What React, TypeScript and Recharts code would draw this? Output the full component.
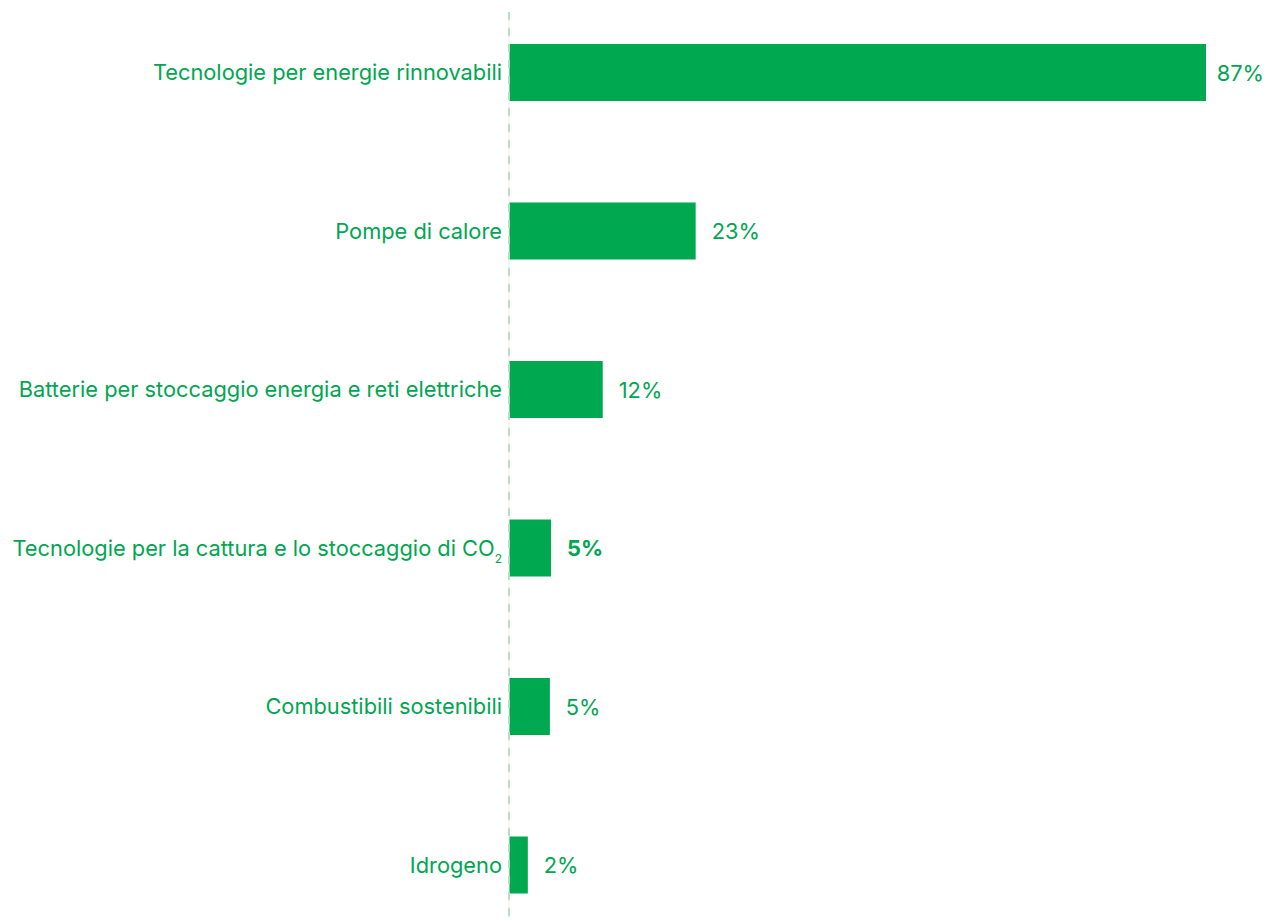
import React from "react";
import { BarChart, Bar, XAxis, YAxis, LabelList, ReferenceLine } from "recharts";

const categories = [
  "Tecnologie per energie rinnovabili",
  "Pompe di calore",
  "Batterie per stoccaggio energia e reti elettriche",
  "Tecnologie per la cattura e lo stoccaggio di CO2",
  "Combustibili sostenibili",
  "Idrogeno",
];
const values = [87, 23.3, 11.7, 5.25, 5.1, 2.35];
const valueLabels = ["87%", "23%", "12%", "5%", "5%", "2%"];

const CHART_W = 1267;
const CHART_H = 921;
const GREEN = "#00A84F";
const TEXT_GREEN = "#00A651";
const FONT = "Inter, 'Noto Sans', sans-serif";
const FONT_SIZE = 21.8;
const BOLD_CATEGORY = categories[3];

const data = categories.map((c, i) => ({ name: c, value: values[i], label: valueLabels[i] }));

const Tick = (props: any) => {
  const { x, y, payload } = props;
  const name: string = payload.value;
  if (name.endsWith("CO2")) {
    return (
      <text x={x} y={y} textAnchor="end" dominantBaseline="central" fill={TEXT_GREEN} fontSize={FONT_SIZE} fontFamily={FONT}>
        {name.slice(0, -1)}
        <tspan fontSize={12} dy={10}>2</tspan>
      </text>
    );
  }
  return (
    <text x={x} y={y} textAnchor="end" dominantBaseline="central" fill={TEXT_GREEN} fontSize={FONT_SIZE} fontFamily={FONT}>
      {name}
    </text>
  );
};

const ValueLabel = (props: any) => {
  const { x, y, width, height, index } = props;
  const d = data[index];
  const start = x + width + 16;
  const overflow = start + 50 > CHART_W;
  return (
    <text
      x={overflow ? CHART_W - 3 : start}
      y={y + height / 2}
      textAnchor={overflow ? "end" : "start"}
      dominantBaseline="central"
      fill={TEXT_GREEN}
      fontSize={FONT_SIZE}
      fontFamily={FONT}
      fontWeight={d.name === BOLD_CATEGORY ? 700 : 400}
    >
      {d.label}
    </text>
  );
};

export default function App() {
  return (
    <div style={{ position: "absolute", left: 0, top: 0, width: CHART_W, height: CHART_H, background: "#fff" }}>
      <BarChart
        width={CHART_W}
        height={CHART_H}
        data={data}
        layout="vertical"
        margin={{ top: 12, right: 61, bottom: 3, left: 0 }}
        barSize={57}
      >
        <XAxis type="number" domain={[0, 87]} hide />
        <YAxis
          type="category"
          dataKey="name"
          width={509}
          padding={{ top: -19, bottom: -26 }}
          axisLine={{ stroke: "#B3E0C3", strokeWidth: 2, strokeDasharray: "8 8" }}
          tickLine={false}
          tickSize={0}
          tickMargin={7}
          tick={<Tick />}
          interval={0}
        />
        <ReferenceLine x={0} stroke="#E3F3E9" strokeWidth={1} />
        <Bar dataKey="value" fill={GREEN} isAnimationActive={false}>
          <LabelList dataKey="label" content={<ValueLabel />} />
        </Bar>
      </BarChart>
    </div>
  );
}
